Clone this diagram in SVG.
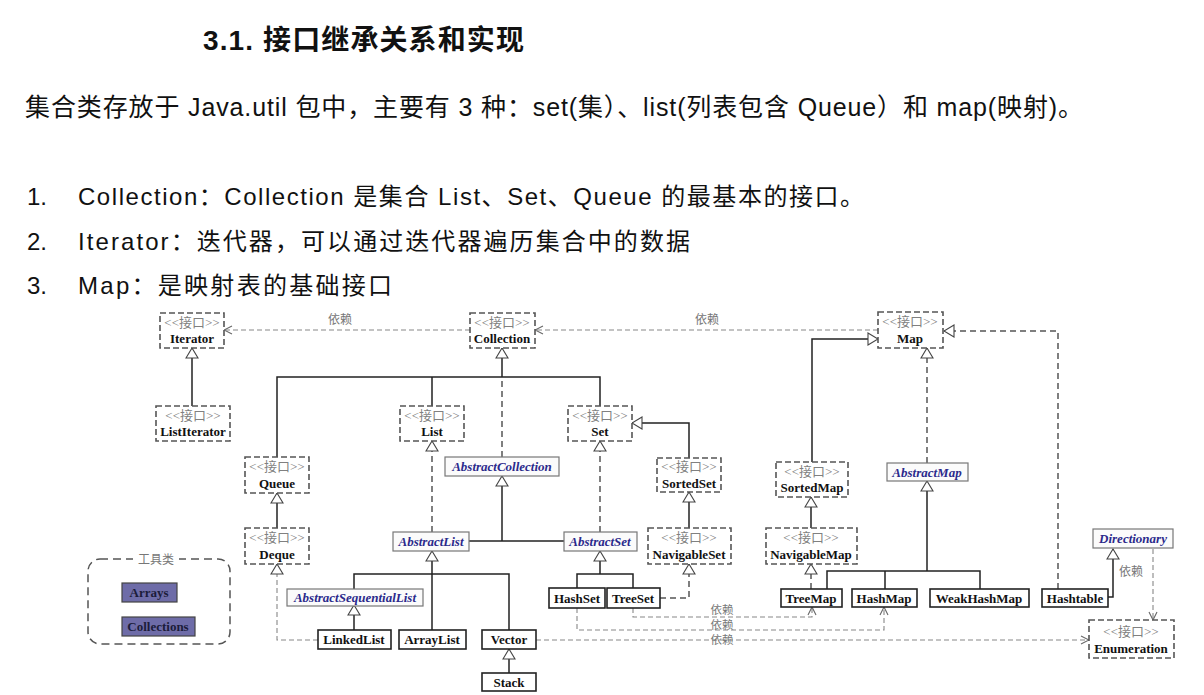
<svg xmlns="http://www.w3.org/2000/svg" width="1204" height="695" viewBox="0 0 1204 695">
<style>
.hd{font-family:"Liberation Sans","Noto Sans CJK SC",sans-serif;fill:#111}
.iface rect{fill:#fff;stroke:#555;stroke-width:1.6;stroke-dasharray:6 3}
.st{font-family:"Liberation Serif","Noto Sans CJK SC",serif;font-size:13px;fill:#808080;text-anchor:middle}
.nm{font-family:"Liberation Serif","Noto Sans CJK SC",serif;font-size:13px;font-weight:bold;fill:#111;text-anchor:middle}
.cls rect{fill:#fff;stroke:#222;stroke-width:1.6}
.abs rect{fill:#fbfbfb;stroke:#777;stroke-width:1.2}
.an{font-family:"Liberation Serif",serif;font-size:13px;font-weight:bold;font-style:italic;fill:#2b2a8c;text-anchor:middle}
.tool rect{fill:#6e6ca8;stroke:#444;stroke-width:1.2}
.tn{font-family:"Liberation Serif",serif;font-size:13px;font-weight:bold;fill:#1c1c3a;text-anchor:middle}
.s{fill:none;stroke:#222;stroke-width:1.5}
.d{fill:none;stroke:#555;stroke-width:1.5;stroke-dasharray:6 4}
.dp{fill:none;stroke:#888;stroke-width:1.1;stroke-dasharray:5 3}
.lb{font-family:"Noto Sans CJK SC",sans-serif;font-size:12px;fill:#777;text-anchor:middle}
.lb2{font-family:"Noto Sans CJK SC",sans-serif;font-size:11.5px;fill:#777;text-anchor:middle}
</style>
<defs>
<marker id="tri" viewBox="-1 -1 12 14" refX="10" refY="6" markerWidth="12" markerHeight="14" markerUnits="userSpaceOnUse" orient="auto">
<path d="M0,0 L10,6 L0,12 Z" fill="#fff" stroke="#444" stroke-width="1.1"/>
</marker>
<marker id="vee" viewBox="-1 -1 10 10" refX="8" refY="4" markerWidth="10" markerHeight="10" markerUnits="userSpaceOnUse" orient="auto">
<path d="M0,0 L8,4 L0,8" fill="none" stroke="#666" stroke-width="1.1"/>
</marker>
</defs>
<rect width="1204" height="695" fill="#fff"/>

<g id="header">
<text class="hd" x="203" y="50" font-size="28" font-weight="bold" textLength="321">3.1. 接口继承关系和实现</text>
<text class="hd" x="25" y="116" font-size="25" textLength="1058">集合类存放于 Java.util 包中，主要有 3 种：set(集）、list(列表包含 Queue）和 map(映射)。</text>
<text class="hd" x="27" y="205" font-size="24">1.</text>
<text class="hd" x="78" y="205" font-size="24" textLength="786">Collection：Collection 是集合 List、Set、Queue 的最基本的接口。</text>
<text class="hd" x="27" y="250" font-size="24">2.</text>
<text class="hd" x="78" y="250" font-size="24" textLength="612">Iterator：迭代器，可以通过迭代器遍历集合中的数据</text>
<text class="hd" x="27" y="294" font-size="24">3.</text>
<text class="hd" x="78" y="294" font-size="24" textLength="314">Map：是映射表的基础接口</text>
</g>

<g id="connectors">
<path class="dp" d="M470,330 H224" marker-end="url(#vee)"/>
<path class="dp" d="M878,330 H535" marker-end="url(#vee)"/>
<text class="lb" x="340" y="324">依赖</text>
<text class="lb" x="707" y="324">依赖</text>
<path class="s" d="M192,406 V348" marker-end="url(#tri)"/>
<path class="s" d="M277,457 V377 H600 V406 M432,377 V406"/>
<path class="s" d="M502,377 V348" marker-end="url(#tri)"/>
<path class="d" d="M502,457 V377"/>
<path class="s" d="M277,528 V493" marker-end="url(#tri)"/>
<path class="d" d="M432,532 V441" marker-end="url(#tri)"/>
<path class="d" d="M600,532 V441" marker-end="url(#tri)"/>
<path class="s" d="M469,541 H564"/>
<path class="s" d="M502,541 V476" marker-end="url(#tri)"/>
<path class="s" d="M689,458 V423 H632" marker-end="url(#tri)"/>
<path class="s" d="M689,528 V492" marker-end="url(#tri)"/>
<path class="d" d="M660,598 H689 V564" marker-end="url(#tri)"/>
<path class="s" d="M577,588 V574 H633 V588"/>
<path class="s" d="M600,574 V551" marker-end="url(#tri)"/>
<path class="s" d="M354,589 V574 H509 V630"/>
<path class="s" d="M432,630 V551" marker-end="url(#tri)"/>
<path class="s" d="M354,630 V605" marker-end="url(#tri)"/>
<path class="dp" d="M318,640 H277 V564" marker-end="url(#tri)"/>
<path class="s" d="M509,673 V649" marker-end="url(#tri)"/>
<path class="dp" d="M536,640 H1089" marker-end="url(#vee)"/>
<path class="dp" d="M633,608 V617 H812 V607" marker-end="url(#vee)"/>
<path class="dp" d="M577,608 V630 H884 V607" marker-end="url(#vee)"/>
<text class="lb2" x="722" y="614">依赖</text>
<text class="lb2" x="722" y="628.5">依赖</text>
<text class="lb2" x="722" y="643.5">依赖</text>
<path class="s" d="M812,462 V339 H878" marker-end="url(#tri)"/>
<path class="s" d="M811,528 V497" marker-end="url(#tri)"/>
<path class="d" d="M811,589 V564" marker-end="url(#tri)"/>
<path class="d" d="M927,463 V348" marker-end="url(#tri)"/>
<path class="s" d="M827,589 V571 H980 V589 M885,571 V589"/>
<path class="s" d="M927,571 V481" marker-end="url(#tri)"/>
<path class="d" d="M1058,589 V331 H944" marker-end="url(#tri)"/>
<path class="s" d="M1108,597 H1113 V549" marker-end="url(#tri)"/>
<text class="lb" x="1131" y="576">依赖</text>
<path class="dp" d="M1153,549 V620" marker-end="url(#vee)"/>
</g>

<g id="Iterator" class="iface"><rect x="160" y="313" width="64" height="35"/><text class="st" x="192" y="327">&lt;&lt;接口&gt;&gt;</text><text class="nm" x="192" y="343">Iterator</text></g>
<g id="Collection" class="iface"><rect x="470" y="313" width="65" height="35"/><text class="st" x="502" y="327">&lt;&lt;接口&gt;&gt;</text><text class="nm" x="502" y="343">Collection</text></g>
<g id="Map" class="iface"><rect x="878" y="312" width="65" height="36"/><text class="st" x="910" y="326">&lt;&lt;接口&gt;&gt;</text><text class="nm" x="910" y="343">Map</text></g>
<g id="ListIterator" class="iface"><rect x="156" y="406" width="74" height="35"/><text class="st" x="193" y="420">&lt;&lt;接口&gt;&gt;</text><text class="nm" x="193" y="436">ListIterator</text></g>
<g id="List" class="iface"><rect x="400" y="406" width="64" height="35"/><text class="st" x="432" y="420">&lt;&lt;接口&gt;&gt;</text><text class="nm" x="432" y="436">List</text></g>
<g id="Set" class="iface"><rect x="568" y="406" width="64" height="35"/><text class="st" x="600" y="420">&lt;&lt;接口&gt;&gt;</text><text class="nm" x="600" y="436">Set</text></g>
<g id="Queue" class="iface"><rect x="245" y="457" width="64" height="36"/><text class="st" x="277" y="471">&lt;&lt;接口&gt;&gt;</text><text class="nm" x="277" y="488">Queue</text></g>
<g id="Deque" class="iface"><rect x="245" y="528" width="64" height="36"/><text class="st" x="277" y="542">&lt;&lt;接口&gt;&gt;</text><text class="nm" x="277" y="559">Deque</text></g>
<g id="SortedSet" class="iface"><rect x="657" y="458" width="64" height="34"/><text class="st" x="689" y="471">&lt;&lt;接口&gt;&gt;</text><text class="nm" x="689" y="488">SortedSet</text></g>
<g id="NavigableSet" class="iface"><rect x="648" y="528" width="83" height="36"/><text class="st" x="689" y="542">&lt;&lt;接口&gt;&gt;</text><text class="nm" x="689" y="559">NavigableSet</text></g>
<g id="SortedMap" class="iface"><rect x="776" y="462" width="72" height="35"/><text class="st" x="812" y="476">&lt;&lt;接口&gt;&gt;</text><text class="nm" x="812" y="492">SortedMap</text></g>
<g id="NavigableMap" class="iface"><rect x="766" y="528" width="91" height="36"/><text class="st" x="811" y="542">&lt;&lt;接口&gt;&gt;</text><text class="nm" x="811" y="559">NavigableMap</text></g>
<g id="Enumeration" class="iface"><rect x="1089" y="620" width="85" height="38"/><text class="st" x="1131" y="636">&lt;&lt;接口&gt;&gt;</text><text class="nm" x="1131" y="653">Enumeration</text></g>

<g id="AbstractCollection" class="abs"><rect x="445" y="457" width="114" height="19"/><text class="an" x="502" y="471">AbstractCollection</text></g>
<g id="AbstractList" class="abs"><rect x="393" y="532" width="76" height="19"/><text class="an" x="431" y="546">AbstractList</text></g>
<g id="AbstractSet" class="abs"><rect x="564" y="532" width="73" height="19"/><text class="an" x="600" y="546">AbstractSet</text></g>
<g id="AbstractSequentialList" class="abs"><rect x="287" y="589" width="136" height="17"/><text class="an" x="355" y="602" font-size="12.5">AbstractSequentialList</text></g>
<g id="AbstractMap" class="abs"><rect x="887" y="463" width="81" height="18"/><text class="an" x="927" y="477">AbstractMap</text></g>
<g id="Directionary" class="abs"><rect x="1093" y="529" width="80" height="19"/><text class="an" x="1133" y="543">Directionary</text></g>

<g id="LinkedList" class="cls"><rect x="318" y="630" width="73" height="19"/><text class="nm" x="354" y="644">LinkedList</text></g>
<g id="ArrayList" class="cls"><rect x="399" y="630" width="67" height="19"/><text class="nm" x="432" y="644">ArrayList</text></g>
<g id="Vector" class="cls"><rect x="482" y="630" width="54" height="19"/><text class="nm" x="509" y="644">Vector</text></g>
<g id="Stack" class="cls"><rect x="482" y="673" width="54" height="18"/><text class="nm" x="509" y="687">Stack</text></g>
<g id="HashSet" class="cls"><rect x="549" y="588" width="56" height="20"/><text class="nm" x="577" y="603">HashSet</text></g>
<g id="TreeSet" class="cls"><rect x="607" y="588" width="53" height="20"/><text class="nm" x="633" y="603">TreeSet</text></g>
<g id="TreeMap" class="cls"><rect x="781" y="589" width="61" height="18"/><text class="nm" x="811" y="603">TreeMap</text></g>
<g id="HashMap" class="cls"><rect x="852" y="589" width="65" height="18"/><text class="nm" x="884" y="603">HashMap</text></g>
<g id="WeakHashMap" class="cls"><rect x="930" y="589" width="99" height="18"/><text class="nm" x="979" y="603">WeakHashMap</text></g>
<g id="Hashtable" class="cls"><rect x="1042" y="589" width="66" height="18"/><text class="nm" x="1075" y="603">Hashtable</text></g>

<g id="tools">
<rect x="88" y="559" width="142" height="85" rx="12" fill="none" stroke="#555" stroke-width="1.5" stroke-dasharray="8 5"/>
<rect x="133" y="551" width="46" height="16" fill="#fff"/>
<text class="lb" x="156" y="564" fill="#666">工具类</text>
<g id="Arrays" class="tool"><rect x="122" y="583" width="55" height="19"/><text class="tn" x="149" y="597">Arrays</text></g>
<g id="Collections" class="tool"><rect x="122" y="617" width="73" height="19"/><text class="tn" x="158" y="631">Collections</text></g>
</g>
</svg>
